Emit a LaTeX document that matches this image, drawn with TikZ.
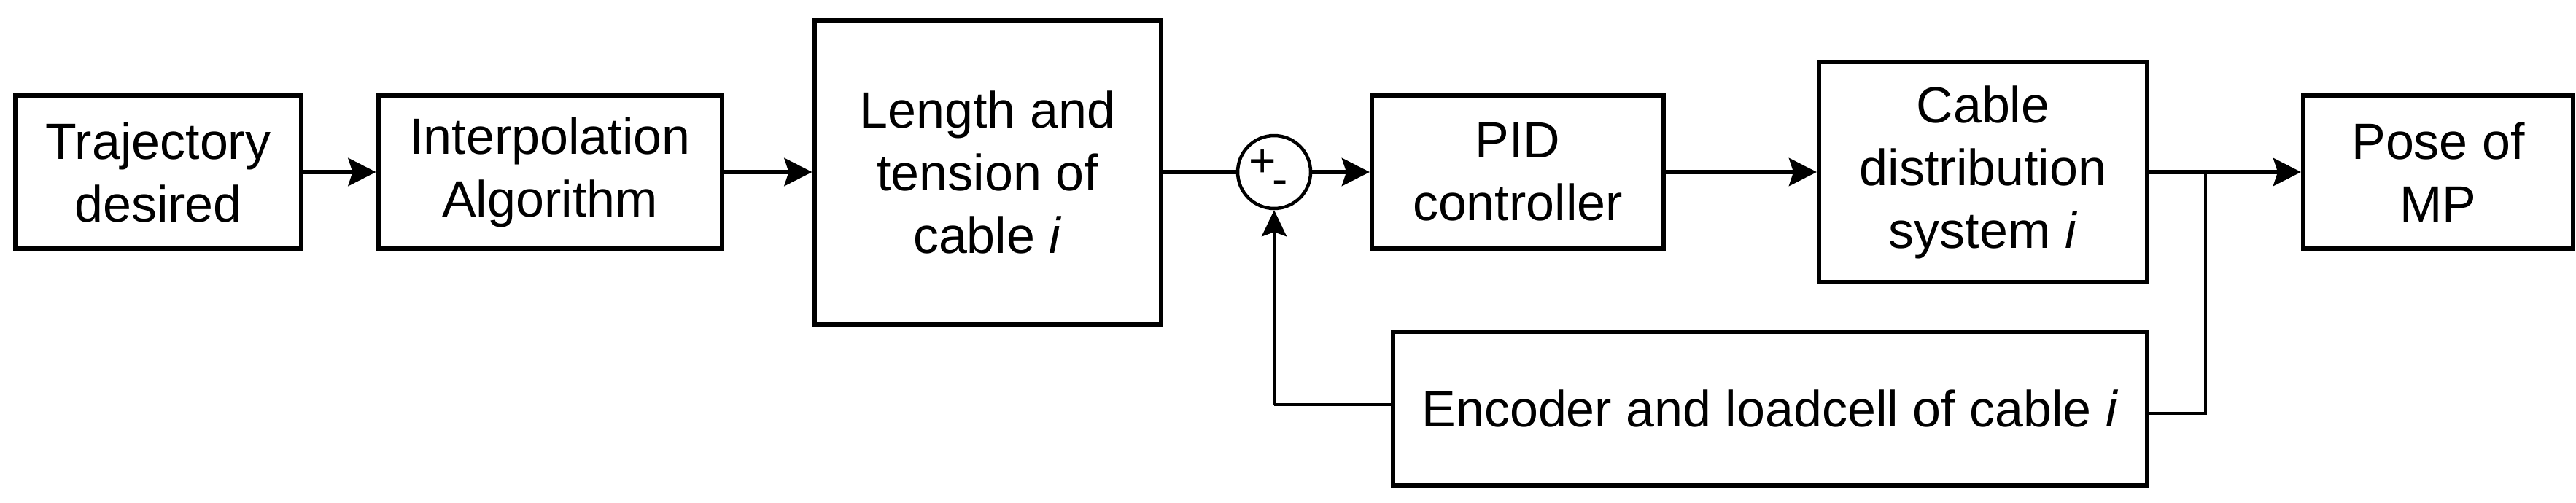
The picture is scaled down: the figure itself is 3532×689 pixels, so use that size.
\documentclass[tikz,border=0pt]{standalone}
\usepackage{fontspec}
\setmainfont{Liberation Sans}
\usetikzlibrary{arrows.meta}
\begin{document}
\begin{tikzpicture}[x=1pt,y=-1pt,
  box/.style={draw,line width=6pt,align=center,inner sep=0pt,font=\fontsize{70}{86}\selectfont},
  arr/.style={line width=6pt,-{Stealth[length=38pt,width=38pt,inset=6pt]}},
  fb/.style={line width=4.5pt}]
\useasboundingbox (0,0) rectangle (3532,689);
\node[box,minimum width=392pt,minimum height=210pt] (traj) at (217,236) {Trajectory\\desired};
\node[box,minimum width=471pt,minimum height=210pt] (interp) at (754,236) {Interpolation\\Algorithm};
\node[box,minimum width=475pt,minimum height=417pt] (len) at (1354,236) {Length and\\tension of\\cable \textit{i}};
\node[draw,circle,line width=4.5pt,minimum size=100pt,inner sep=0pt] (sum) at (1747,236) {};
\node[font=\fontsize{64}{64}\selectfont] (plus) at (1731,224) {+};
\node[font=\fontsize{64}{64}\selectfont] (minus) at (1755,258) {-};
\node[box,minimum width=400pt,minimum height=210pt] (pid) at (2081,236) {PID\\controller};
\node[box,minimum width=450pt,minimum height=302pt] (cds) at (2719,236) {Cable\\distribution\\system \textit{i}};
\node[box,minimum width=370pt,minimum height=210pt] (pose) at (3343,236) {Pose of\\MP};
\node[box,minimum width=1034pt,minimum height=211pt] (enc) at (2427,560) {Encoder and loadcell of cable \textit{i}};
\coordinate (br) at (3024,236);
\coordinate (fbc) at (1747,555);
\draw[arr] (traj) -- (interp);
\draw[arr] (interp) -- (len);
\draw[line width=6pt] (len) -- (sum);
\draw[arr] (sum) -- (pid);
\draw[arr] (pid) -- (cds);
\draw[arr] (cds) -- (pose);
\draw[fb,line join=miter] ([yshift=-7pt]enc.east) -| (br);
\draw[fb] (enc.west |- fbc) -- (fbc);
\draw[fb,-{Stealth[length=36pt,width=34pt,inset=6pt]}] (fbc) -- (sum.south);
\end{tikzpicture}
\end{document}
